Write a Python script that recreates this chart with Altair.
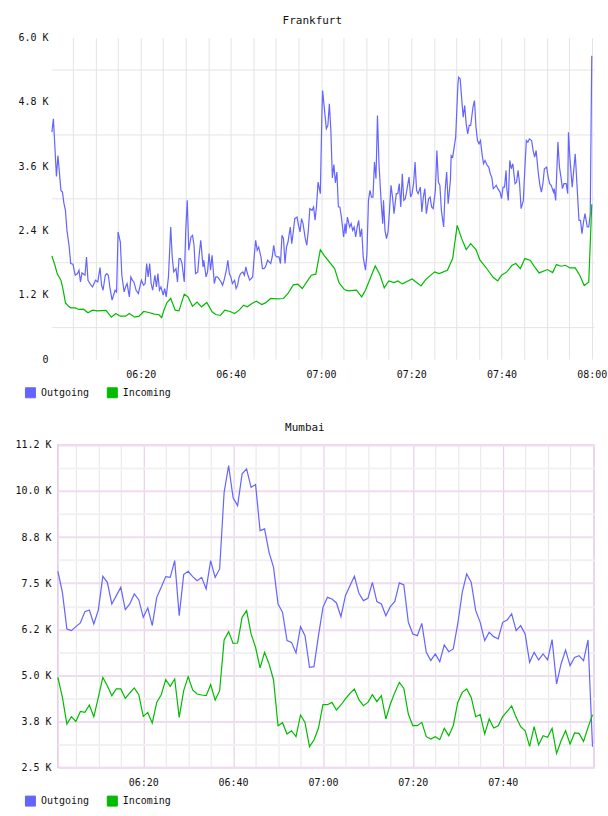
import altair as alt
import pandas as pd

# ---------------------------------------------------------------- data
SERIES = ["Outgoing", "Incoming"]
COLORS = ["#6464ff", "#00bb00"]

# Frankfurt, outgoing: seconds after 06:00 and value
fra_out_sec = [
    20, 40, 80, 100, 140, 160, 180, 200, 220, 250,
    270, 300, 330, 360, 380, 400, 420, 460, 480, 500,
    540, 560, 600, 630, 660, 680, 700, 730, 750, 770,
    790, 820, 860, 880, 900, 930, 950, 980, 1000, 1020,
    1050, 1070, 1090, 1110, 1140, 1170, 1190, 1210, 1240, 1260,
    1280, 1300, 1320, 1340, 1360, 1390, 1410, 1430, 1450, 1470,
    1500, 1520, 1540, 1570, 1600, 1620, 1640, 1670, 1690, 1710,
    1730, 1750, 1780, 1800, 1820, 1840, 1870, 1890, 1910, 1930,
    1960, 1980, 2000, 2030, 2040, 2070, 2090, 2110, 2130, 2150,
    2180, 2200, 2220, 2240, 2270, 2290, 2310, 2340, 2360, 2380,
    2400, 2420, 2450, 2470, 2490, 2510, 2530, 2560, 2580, 2600,
    2620, 2650, 2670, 2690, 2710, 2730, 2750, 2770, 2800, 2820,
    2840, 2860, 2890, 2910, 2930, 2950, 2970, 2990, 3010, 3040,
    3060, 3080, 3100, 3120, 3140, 3160, 3190, 3210, 3230, 3250,
    3280, 3300, 3320, 3340, 3360, 3390, 3410, 3430, 3450, 3480,
    3500, 3520, 3540, 3560, 3590, 3610, 3620, 3670, 3690, 3710,
    3730, 3750, 3770, 3790, 3810, 3830, 3850, 3870, 3900, 3920,
    3930, 3950, 3980, 4000, 4020, 4040, 4060, 4080, 4100, 4120,
    4140, 4160, 4190, 4210, 4230, 4250, 4270, 4290, 4310, 4330,
    4350, 4370, 4400, 4420, 4430, 4450, 4470, 4490, 4510, 4530,
    4550, 4570, 4600, 4620, 4640, 4660, 4680, 4700, 4720, 4740,
    4770, 4790, 4810, 4830, 4850, 4870, 4890, 4920, 4940, 4960,
    4980, 5000, 5030, 5050, 5070, 5090, 5120, 5140, 5160, 5180,
    5200, 5230, 5250, 5270, 5290, 5320, 5330, 5350, 5370, 5390,
    5420, 5430, 5450, 5470, 5490, 5510, 5530, 5550, 5570, 5590,
    5620, 5640, 5660, 5680, 5700, 5720, 5740, 5760, 5780, 5810,
    5830, 5850, 5870, 5890, 5910, 5930, 5950, 5980, 6000, 6020,
    6040, 6060, 6070, 6090, 6110, 6130, 6150, 6180, 6200, 6220,
    6240, 6260, 6290, 6310, 6330, 6350, 6370, 6400, 6420, 6440,
    6460, 6490, 6510, 6530, 6550, 6570, 6600, 6620, 6640, 6660,
    6690, 6700, 6720, 6750, 6770, 6790, 6810, 6830, 6860, 6880,
    6890, 6910, 6940, 6960, 6980, 7000, 7030, 7050, 7070, 7090,
    7110, 7140, 7160, 7180, 7200,
]
fra_out_val = [
    4235, 4484, 3409, 3800, 3148, 3117, 2906, 2776, 2403, 2092,
    1783, 1770, 1565, 1596, 1658, 1440, 1608, 1565, 1906, 1472,
    1379, 1347, 1472, 1440, 1708, 1379, 1285, 1565, 1596, 1565,
    1347, 1099, 1285, 1254, 2372, 2185, 1565, 1254, 1347, 1410,
    1161, 1533, 1472, 1440, 1285, 1224, 1347, 1472, 1379, 1410,
    1783, 1533, 1783, 1410, 1285, 1565, 1347, 1596, 1285, 1347,
    1192, 1316, 1161, 1533, 2465, 1906, 1627, 1689, 1440, 1876,
    1876, 1783, 1440, 2403, 2962, 2031, 2279, 2310, 2124, 1596,
    1627, 1969, 2217, 1720, 1844, 1533, 1627, 1969, 1658, 1937,
    1410, 1533, 1533, 1503, 1440, 1379, 1472, 1658, 1844, 1596,
    1533, 1410, 1472, 1316, 1379, 1533, 1596, 1627, 1565, 1720,
    1596, 1472, 1503, 1533, 1906, 2217, 2031, 2092, 1906, 1689,
    1689, 1720, 1844, 1813, 1783, 1906, 2124, 1937, 1906, 1906,
    1783, 2310, 2248, 1783, 2092, 2185, 2465, 2155, 2372, 2621,
    2651, 2496, 2372, 2621, 2528, 2248, 2124, 2403, 2807, 2776,
    2838, 2590, 2869, 3303, 3087, 4514, 5011, 4298, 4360, 4763,
    4266, 3380, 3630, 3290, 3490, 2838, 2838, 2651, 2279, 2528,
    2342, 2651, 2465, 2528, 2403, 2465, 2279, 2465, 2590, 2279,
    2434, 1906, 1658, 1969, 2962, 3148, 3024, 3024, 3676, 3366,
    4546, 3646, 2900, 2528, 2962, 2403, 2248, 2372, 2776, 3242,
    3024, 2714, 3087, 3087, 3273, 2838, 3459, 2962, 2993, 3148,
    3397, 3024, 3087, 3273, 3676, 3148, 3087, 3210, 2745, 3024,
    3180, 2714, 2993, 3024, 2838, 2807, 3148, 3894, 3303, 3242,
    2776, 2465, 3148, 3490, 2900, 3335, 3800, 3770, 3956, 4142,
    5136, 5260, 5229, 4857, 4514, 4732, 4391, 4204, 4360, 4360,
    4701, 4825, 4329, 4080, 4018, 4080, 3832, 3646, 3707, 3614,
    3583, 3459, 3397, 3180, 3210, 3242, 3180, 3117, 2993, 3210,
    3210, 3521, 3180, 2962, 3707, 3552, 3646, 3273, 3303, 3521,
    3273, 2807, 2962, 3552, 4080, 4049, 4111, 4080, 3894, 3770,
    3894, 3459, 3242, 3117, 3273, 3552, 3583, 3397, 3273, 3242,
    3117, 3180, 2962, 4049, 3583, 3397, 3180, 3273, 3273, 3087,
    4235, 3739, 3210, 3521, 3832, 3335, 2590, 2590, 2342, 2558,
    2714, 2465, 2465, 2714, 5663,
]

# Frankfurt, incoming
fra_in_sec = [
    20, 60, 90, 140, 170, 200, 240, 270, 330, 380,
    440, 500, 560, 620, 740, 810, 870, 930, 1000, 1050,
    1120, 1180, 1240, 1310, 1380, 1440, 1480, 1510, 1550, 1600,
    1660, 1710, 1780, 1830, 1890, 1950, 2010, 2080, 2150, 2200,
    2260, 2320, 2390, 2450, 2510, 2570, 2620, 2680, 2740, 2810,
    2860, 2930, 3010, 3100, 3160, 3230, 3290, 3350, 3410, 3470,
    3530, 3590, 3640, 3780, 3840, 3910, 3960, 4070, 4140, 4190,
    4320, 4380, 4440, 4500, 4570, 4620, 4680, 4810, 4930, 4990,
    5110, 5170, 5280, 5350, 5410, 5470, 5530, 5590, 5660, 5710,
    5820, 5890, 5950, 6000, 6070, 6140, 6190, 6250, 6310, 6380,
    6440, 6500, 6610, 6680, 6730, 6790, 6850, 6910, 6980, 7040,
    7100, 7160, 7200,
]
fra_in_val = [
    1925, 1751, 1596, 1472, 1285, 1049, 987, 956, 956, 926,
    931, 863, 913, 900, 907, 782, 851, 801, 801, 851,
    782, 801, 888, 870, 838, 832, 776, 913, 1056, 1131,
    913, 900, 1211, 1161, 987, 1062, 975, 1056, 882, 832,
    814, 913, 888, 851, 913, 1006, 975, 1037, 1081, 1019,
    1049, 1131, 1124, 1131, 1224, 1384, 1397, 1317, 1440, 1565,
    1584, 2040, 1937, 1689, 1422, 1298, 1273, 1285, 1161, 1285,
    1739, 1584, 1328, 1459, 1428, 1459, 1403, 1496, 1366, 1484,
    1627, 1596, 1658, 1876, 2496, 2248, 2044, 2155, 2044, 1857,
    1658, 1522, 1459, 1565, 1627, 1751, 1783, 1689, 1876, 1844,
    1720, 1608, 1671, 1615, 1764, 1733, 1751, 1701, 1701, 1565,
    1373, 1440, 2888,
]

# Mumbai: one sample per minute, 06:01 .. 08:00
mum_minute = list(range(1, 121))
mum_out_val = [
    7790, 7223, 6235, 6190, 6298, 6397, 6702, 6748, 6370, 6748,
    7655, 7493, 6910, 7134, 7358, 6756, 6910, 7180, 7026, 6549,
    6802, 6324, 7088, 7358, 7647, 7628, 8079, 6594, 7701, 7790,
    7647, 7539, 7628, 7315, 8079, 7628, 7855, 9922, 10643, 9771,
    9563, 10419, 10554, 10057, 10130, 8889, 8934, 8303, 7898, 6910,
    6684, 5920, 5874, 5588, 6298, 6055, 5199, 5218, 6055, 6818,
    7088, 7045, 6937, 6567, 7134, 7404, 7655, 7196, 6999, 7061,
    7493, 6972, 6910, 6594, 6837, 6980, 7477, 7423, 6414, 6100,
    6055, 6386, 5604, 5380, 5560, 5353, 5804, 5623, 5696, 6370,
    7223, 7720, 7493, 6729, 6414, 5920, 6144, 6028, 5966, 6414,
    6478, 6640, 6190, 6325, 6100, 5334, 5604, 5399, 5560, 5399,
    5947, 4751, 5291, 5669, 5245, 5469, 5515, 5380, 5938, 3059,
]
mum_in_val = [
    4929, 4389, 3671, 3868, 3741, 4011, 3984, 4184, 3868, 4389,
    4929, 4705, 4435, 4616, 4616, 4362, 4508, 4643, 4462, 3877,
    3984, 3698, 4254, 4462, 4867, 4686, 4886, 3850, 4570, 4948,
    4589, 4481, 4454, 4435, 4732, 4319, 4570, 5938, 6163, 5847,
    5857, 6549, 6729, 6100, 5739, 5183, 5604, 5291, 4859, 3625,
    3706, 3401, 3490, 3329, 3914, 3715, 3059, 3239, 3563, 4192,
    4192, 4254, 4049, 4184, 4346, 4497, 4616, 4327, 4165, 4254,
    4462, 4273, 4435, 3806, 4211, 4524, 4794, 4632, 3941, 3625,
    3625, 3715, 3329, 3266, 3329, 3248, 3553, 3356, 3625, 4254,
    4524, 4616, 4389, 3868, 3922, 3401, 3806, 3563, 3625, 3868,
    4011, 4157, 3850, 3598, 3490, 3067, 3598, 3113, 3356, 3311,
    3553, 2878, 3221, 3490, 3131, 3428, 3418, 3202, 3580, 3922,
]

FRA_Y_TICKS = [0, 1200, 2400, 3600, 4800, 6000]
MUM_Y_LABELS = ["2.5 K", "3.8 K", "5.0 K", "6.2 K", "7.5 K", "8.8 K", "10.0 K", "11.2 K"]
MUM_Y_MIN, MUM_Y_MAX = 2500, 11200

# ---------------------------------------------------------------- style
FONT = "DejaVu Sans Mono"
GRID = "#e4e4e4"
PINK = "#f0dcf0"
PURPLE = "#e0c8e0"
BORDER = "#e4c8e4"
BASE = pd.Timestamp("2024-01-01 06:00:00")


def clock(h, m, s=0):
    return alt.DateTime(year=2024, month=1, date=1, hours=h, minutes=m, seconds=s)


def frame(out_sec, out_val, in_sec, in_val):
    out = pd.DataFrame({"time": BASE + pd.to_timedelta(out_sec, unit="s"),
                        "value": out_val, "series": SERIES[0]})
    inc = pd.DataFrame({"time": BASE + pd.to_timedelta(in_sec, unit="s"),
                        "value": in_val, "series": SERIES[1]})
    return pd.concat([out, inc], ignore_index=True)


def time_axis(last_minute, grid_color):
    ticks = [clock(6 + m // 60, m % 60) for m in range(5, last_minute + 1, 5)]
    return alt.Axis(
        values=ticks,
        labelExpr="minutes(datum.value) % 20 == 0 ? timeFormat(datum.value, '%H:%M') : ''",
        grid=True, gridColor=grid_color, gridWidth=1,
        ticks=False, domain=False, labelPadding=10,
        labelFont=FONT, labelFontSize=10, labelColor="#111",
        labelOverlap=False, labelFlush=False, title=None,
    )


def legend(x, y):
    return alt.Legend(
        orient="none", legendX=x, legendY=y, direction="horizontal", title=None,
        symbolType="square", symbolSize=100, symbolStrokeColor="#8c8c8c",
        symbolStrokeWidth=1, symbolOpacity=1,
        labelFont=FONT, labelFontSize=10,
        labelColor="#111", labelOffset=5, columnPadding=15, padding=0,
    )


def title(text):
    return alt.TitleParams(text, font=FONT, fontSize=11, fontWeight="normal",
                           color="#111", anchor="middle", frame="bounds", offset=7)


color_scale = alt.Scale(domain=SERIES, range=COLORS)


def panel(df, x_enc, y_enc, leg, width, height, name, view):
    color = alt.Color("series:N", scale=color_scale, legend=leg)
    # filled squares give the legend its swatches; the filter keeps them off the plot
    swatch = alt.Chart(df).mark_square(filled=True).encode(
        x=x_enc, y=y_enc, color=color,
    ).transform_filter("false")
    lines = alt.Chart(df).mark_line(strokeWidth=1.2).encode(
        x=x_enc, y=y_enc, color=color,
    )
    return alt.layer(swatch, lines).properties(
        width=width, height=height, title=title(name), view=view,
    )


PLOT_W = 537
FRA_LEFT_EXTRA = 6  # the upper plot starts a little further left than the lower one

# ---------------------------------------------------------------- Frankfurt
fra_df = frame(fra_out_sec, fra_out_val, fra_in_sec, fra_in_val)
fra_grid_step = FRA_Y_TICKS[1] / 2
fra_values = [i * fra_grid_step for i in range(2 * (len(FRA_Y_TICKS) - 1) + 1)]

frankfurt = panel(
    fra_df,
    alt.X("time:T",
          scale=alt.Scale(domain=[clock(6, 0, 20), clock(8, 0, 30)],
                          range=[-FRA_LEFT_EXTRA, PLOT_W]),
          axis=time_axis(120, GRID)),
    alt.Y("value:Q",
          scale=alt.Scale(domain=[FRA_Y_TICKS[0], FRA_Y_TICKS[-1]], nice=False, zero=False),
          axis=alt.Axis(
              values=fra_values,
              labelExpr=f"datum.value % {FRA_Y_TICKS[1]} ? '' : "
                        "(datum.value ? format(datum.value / 1000, '.1f') + ' K' : '0')",
              grid=True, gridColor=GRID,
              gridOpacity={"condition": {"test": f"datum.value % {FRA_Y_TICKS[1]} == 0",
                                         "value": 0}, "value": 1},
              ticks=False, domain=False, labelPadding=10,
              labelFont=FONT, labelFontSize=10, labelColor="#111", title=None,
          )),
    legend(-33, 350), PLOT_W, 322, "Frankfurt",
    alt.ViewBackground(stroke="transparent"),
)

# ---------------------------------------------------------------- Mumbai
mum_df = frame([m * 60 for m in mum_minute], mum_out_val,
               [m * 60 for m in mum_minute], mum_in_val)
n_labels = len(MUM_Y_LABELS)
half = (MUM_Y_MAX - MUM_Y_MIN) / (2 * (n_labels - 1))
mum_values = [MUM_Y_MIN + i * half for i in range(2 * (n_labels - 1) + 1)]
idx = f"round((datum.value - {MUM_Y_MIN}) / {half:.6f})"
js_labels = "[" + ",".join(f"'{s}'" for s in MUM_Y_LABELS) + "]"

mumbai = panel(
    mum_df,
    alt.X("time:T", scale=alt.Scale(domain=[clock(6, 1), clock(8, 0, 20)]),
          axis=time_axis(115, {"condition": {"test": "minutes(datum.value) % 20 == 0",
                                             "value": PURPLE}, "value": "#e6e6e6"})),
    alt.Y("value:Q",
          scale=alt.Scale(domain=[MUM_Y_MIN, MUM_Y_MAX], nice=False, zero=False),
          axis=alt.Axis(
              values=mum_values,
              labelExpr=f"{idx} % 2 ? '' : {js_labels}[{idx} / 2]",
              grid=True, gridWidth=2,
              gridColor={"condition": {"test": f"{idx} % 2 == 0", "value": PINK},
                         "value": "#f1f1f1"},
              ticks=False, domain=False, labelPadding=7,
              labelFont=FONT, labelFontSize=10, labelColor="#111", title=None,
          )),
    legend(-33, 351), PLOT_W, 323, "Mumbai",
    alt.ViewBackground(stroke=BORDER, strokeWidth=1.5),
)

chart = alt.ConcatChart(
    concat=[frankfurt, mumbai], columns=1, spacing=20,
).resolve_scale(color="independent").resolve_legend(color="independent").properties(
    padding={"left": 14, "top": 13, "right": 0, "bottom": 0},
).configure(background="white")

chart.save("out.html", embed_options={"renderer": "svg", "actions": False})
